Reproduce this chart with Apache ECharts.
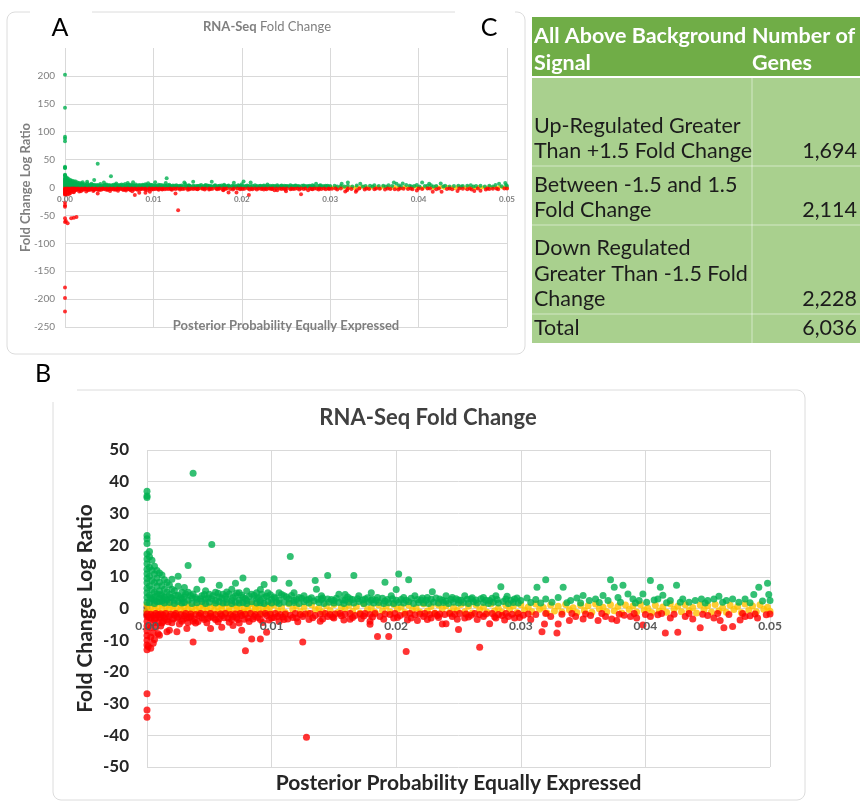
<!DOCTYPE html>
<html><head><meta charset="utf-8">
<script src="https://cdn.jsdelivr.net/npm/echarts@6/dist/echarts.min.js"></script>
<style>html,body{margin:0;padding:0;background:#fff}#c{width:862px;height:807px}</style>
</head><body><div id="c"></div>
<script>
// ---------------- DATA ----------------
const xTickValues = [0, 0.01, 0.02, 0.03, 0.04, 0.05];
const yTicksFull = [-250, -200, -150, -100, -50, 0, 50, 100, 150, 200];
const yTicksZoom = [-50, -40, -30, -20, -10, 0, 10, 20, 30, 40, 50];

const chartTitle = 'RNA-Seq Fold Change';
const xTitle = 'Posterior Probability Equally Expressed';
const yTitle = 'Fold Change Log Ratio';

const tableHeader = ['All Above Background\nSignal', 'Number of\nGenes'];
const tableRowLabels = ['Up-Regulated Greater\nThan +1.5 Fold Change', 'Between -1.5 and 1.5\nFold Change', 'Down Regulated\nGreater Than -1.5 Fold\nChange', 'Total'];
const tableRowCounts = ['1,694', '2,114', '2,228', '6,036'];

const otherPoints = [[0,0.3],[0,-0.8],[0,-2]];

const betweenPoints = [
[0,1.2],[0,-0.8],[.0003,0.3],[.0003,-1.3],[.0006,1.1],[.0006,-0.4],[.0009,0.6],[.0009,-1.1],[.0012,1.4],[.0012,-0.2],[.0015,0.8],[.0015,-1.2],[.0018,0.1],[.0018,1.3],[.0021,-0.7],[.0021,0.9],[.0024,-1.4],[.0024,0.4],[.0027,1.1],[.0027,-0.5],[.003,-1],[.003,0.7],[.0033,1.4],[.0033,-0.3],[.0036,0.2],[.0036,-1.2],[.0039,1],[.0039,-0.6],[.0042,-1.3],[.0042,0.5],[.0045,1.2],[.0045,-0.1],[.0048,-0.9],[.0048,0.8],[.0051,0.3],[.0051,-1.4],[.0054,1.3],[.0054,-0.6],[.0057,-1.1],[.0057,0.6],[.006,0.9],[.006,-0.3],[.0063,-1.2],[.0063,1.4],[.0066,0.2],[.0066,-0.8],[.0069,1.1],[.0069,-1.4],[.0072,-0.4],[.0072,0.7],[.0075,1.3],[.0075,-1],[.0078,0.1],[.0078,-1.3],[.0081,0.9],[.0081,-0.5],[.0084,1.4],[.0084,-1.1],[.0087,-0.2],[.0087,0.6],[.009,1.2],[.009,-0.9],[.0093,-1.4],[.0093,0.4],[.0096,1],[.0096,-0.3],[.0099,-1.2],[.0099,0.8],
[.0102,1.1],[.0105,-0.7],[.0108,0.3],[.0111,-1.3],[.0114,1.4],[.0117,-0.2],[.012,0.8],[.0123,-1],[.0126,0.5],[.0129,-1.4],[.0132,1.2],[.0135,-0.4],[.0138,0.1],[.0141,-1.1],[.0144,0.9],[.0147,-0.6],[.015,1.3],[.0153,-1.3],[.0156,0.4],[.0159,-0.1],[.0162,1],[.0165,-0.9],[.0168,0.6],[.0171,-1.4],[.0174,1.4],[.0177,-0.3],[.018,0.2],[.0183,-1.2],[.0186,1.1],[.0189,-0.7],[.0192,0.7],[.0195,-1],[.0198,1.3],[.0201,-0.2],[.0204,0.5],[.0207,-1.3],[.021,1],[.0213,-0.5],[.0216,0.2],[.0219,-1.1],[.0222,1.4],[.0225,-0.8],[.0228,0.6],[.0231,-1.4],[.0234,1.1],[.0237,-0.1],[.024,0.9],[.0243,-1.2],[.0246,0.3],[.0249,-0.6],[.0252,1.3],[.0255,-1],[.0258,0.7],[.0261,-1.4],[.0264,1.2],[.0267,-0.4],[.027,0.4],[.0273,-1.2],[.0276,1.4],[.0279,-0.7],[.0282,0.1],[.0285,-1.1],[.0288,1],[.0291,-0.3],[.0294,0.8],[.0297,-1.3],
[.03,1.2],[.0303,-0.5],[.0306,0.5],[.0309,-1],[.0312,1.4],[.0315,-0.2],[.0318,0.3],[.0321,-1.4],[.0324,1.1],[.0327,-0.8],[.033,0.7],[.0333,-1.1],[.0336,1.3],[.0339,-0.4],[.0342,0.2],[.0345,-1.3],[.0348,1],[.0351,-0.6],[.0354,0.9],[.0357,-1.2],[.036,1.4],[.0363,-0.1],[.0366,0.4],[.0369,-1],[.0372,1.2],[.0375,-0.7],[.0378,0.6],[.0381,-1.4],[.0384,1.1],[.0387,-0.3],[.039,0.8],[.0393,-1.1],[.0396,1.3],[.0399,-0.5],[.0402,0.1],[.0405,-1.3],[.0408,1],[.0411,-0.8],[.0414,0.5],[.0417,-1.2],[.042,1.4],[.0423,-0.2],[.0426,0.7],[.0429,-1],[.0432,1.2],[.0435,-0.6],[.0438,0.3],[.0441,-1.4],[.0444,1.1],[.0447,-0.4],[.045,0.9],[.0453,-1.1],[.0456,1.3],[.0459,-0.7],[.0462,0.2],[.0465,-1.2],[.0468,1],[.0471,-0.3],[.0474,0.6],[.0477,-1.3],[.048,1.4],[.0483,-0.5],[.0486,0.8],[.0489,-1],[.0492,1.2],[.0495,-0.2],[.0498,0.4],[.05,-0.9]
];

const upRegulatedPoints = [
[0,202],[0,143],[0,91],[0,88],[0,83],[0,37],[0,35.5],[0,35],[0,23],[0,22],[0,20.5],[0,17.2],[0,15.6],[0,14.1],[0,12.4],[0,11],[0,9.5],[0,8.1],[0,6.4],[0,5],[0,3.5],[0,2],
[.0002,18],[.0002,16.3],[.0002,13],[.0002,10.2],[.0002,7.1],[.0002,4.2],[.0002,1.8],
[.0004,15.2],[.0004,12.1],[.0004,8.8],[.0004,6],[.0004,3.1],
[.0006,13.3],[.0006,10.9],[.0006,8.2],[.0006,5.1],[.0006,2.6],[.0006,1.6],
[.0008,12],[.0008,9.6],[.0008,7],[.0008,4.6],[.0008,2.2],
[.001,11.2],[.001,8.3],[.001,5.6],[.001,3.2],[.001,2.1],
[.0012,10.6],[.0012,7.2],[.0012,4.1],[.0012,2.4],
[.0014,9.1],[.0014,6.1],[.0014,3.6],[.0014,1.7],
[.0016,8.2],[.0016,5.2],[.0016,2.7],
[.0018,7.4],[.0018,4.4],[.0018,1.9],
[.002,9.2],[.002,6.1],[.002,3.4],
[.0022,5.6],[.0022,2.6],[.0022,1.6],
[.0025,10.2],[.0025,7],[.0025,4.1],[.0025,2.2],
[.0028,5.1],[.0028,3],[.0028,1.7],
[.003,6.6],[.003,3.6],[.003,1.9],
[.0033,13.6],[.0033,5.1],[.0033,2.6],
[.0036,3.3],[.0036,1.6],
[.0037,42.7],[.0037,4.6],
[.004,6.1],[.004,2.9],[.004,1.8],
[.0044,9.1],[.0044,4],[.0044,2.2],
[.0047,5.6],[.0047,3],[.0047,1.6],
[.005,4.5],[.005,2],
[.0052,20.2],[.0052,3.1],
[.0055,5.1],[.0055,2.5],[.0055,1.7],
[.0058,7.3],[.0058,3.6],[.0058,2.1],
[.0061,4.5],[.0061,1.7],
[.0064,5.2],[.0064,2.9],[.0064,1.9],
[.0068,6.1],[.0068,2.5],[.0068,1.6],
[.0071,8],[.0071,4],[.0071,2],
[.0074,5],[.0074,2.7],[.0074,1.7],
[.0077,9.6],[.0077,3.5],[.0077,1.9],
[.008,5.5],[.008,2.5],[.008,1.6],
[.0084,4.5],[.0084,2.1],
[.0088,5],[.0088,3],[.0088,1.7],
[.0091,6],[.0091,2.5],[.0091,1.8],
[.0094,7.6],[.0094,3.5],[.0094,1.6],
[.0097,5],[.0097,2.2],
[.01,2.9],[.01,1.7],
[.0102,9.4],[.0102,3.6],
[.0104,2],
[.0106,5],[.0106,2.6],[.0106,1.6],
[.011,4],[.011,2],
[.0114,8],[.0114,3],[.0114,1.7],
[.0115,16.4],
[.0118,5],[.0118,2.5],[.0118,1.9],
[.0122,3.5],[.0122,1.6],
[.0126,4],[.0126,2.1],
[.013,3],[.013,1.7],
[.0134,2.4],[.0135,8.8],[.0136,6.1],[.0138,1.9],
[.014,4],[.014,2.8],[.0142,1.6],
[.0145,10.4],[.0145,3],[.0146,2],
[.015,2.5],[.015,1.7],[.0154,4.5],[.0154,1.9],[.0158,1.6],
[.0159,4.4],[.0159,2.6],[.0162,2],[.0163,3.1],
[.0166,10.4],[.0166,1.7],[.017,4],[.017,2.2],[.0174,1.6],[.0175,3],[.0178,2],
[.018,5],[.018,2.6],[.0182,1.7],[.0185,3.5],[.0186,1.9],[.019,1.6],
[.0191,8.3],[.0191,2.4],[.0194,1.8],[.0196,4],[.0198,1.6],
[.02,6],[.02,2.6],[.0202,10.9],[.0202,1.9],[.0206,3.5],[.0206,1.7],
[.021,9.1],[.021,2.1],[.0214,1.6],[.0215,4],[.0218,1.9],[.022,2.7],[.0222,1.7],[.0225,3.5],[.0226,1.6],
[.0229,5.3],[.023,2],[.0234,1.7],[.0235,3],[.0238,1.9],[.024,4],[.024,2.4],[.0242,1.6],[.0245,3.5],[.0246,2],
[.025,2.7],[.025,1.7],[.0254,1.9],[.0255,4],[.0258,1.6],[.026,3],[.0262,2.1],[.0265,1.7],
[.027,3.5],[.027,1.9],[.0274,1.6],[.0275,2.5],[.0278,2],[.028,4],[.0282,1.7],[.0284,6.9],[.0286,2.2],[.0289,3.9],
[.029,1.6],[.0294,1.9],[.0295,3],[.0298,1.7],[.03,2.5],[.0305,3.3],[.0308,1.9],[.0312,2.8],[.0313,6.7],[.0316,1.7],
[.032,9.1],[.032,3],[.0325,2],[.033,3.5],[.0334,6.7],[.0337,1.8],[.034,2.5],[.0345,3.3],[.0348,1.7],
[.035,4.1],[.0355,2.5],[.036,3],[.0363,1.9],[.0366,4.1],[.037,2.5],[.0372,9.1],[.0375,6.7],[.0378,3.5],
[.038,2],[.0382,7.3],[.0386,4.6],[.039,3],[.0392,1.7],[.0395,2.5],[.0398,4.6],[.0401,2],[.0404,8.8],[.0407,2.7],
[.041,3],[.0412,6.7],[.0414,4.2],[.0417,1.8],[.042,2.5],[.0425,7.3],[.0428,2],[.043,3],[.0435,2],[.044,2.5],
[.0445,3],[.0448,1.7],[.045,2.5],[.0455,3],[.0459,3.9],[.0462,2],[.0465,2.5],[.047,3],[.0475,2],[.048,3],
[.0484,1.8],[.0487,4.4],[.0491,6.7],[.0494,2.4],[.0498,8],[.0499,4.4],[.05,2.5],
[.0003,3.4],[.0007,3.8],[.0011,4.4],[.0015,3.1],[.0019,3.5],[.0023,4.2],[.0027,3.3],[.0031,4.6],[.0035,4.1],[.0039,3.5],[.0043,3.1],[.0046,4.4],[.0049,3.3],[.0053,4],[.0057,4.8],[.006,3.2],[.0063,3.9],[.0066,4.6],[.0069,3.4],[.0072,4.9],[.0076,4.2],[.0079,3.1],[.0082,3.8],[.0086,4.1],[.0089,3.4],[.0092,4.5],[.0096,3.9],[.0099,4.3],[.0103,3.2],[.0108,4.4],[.0112,3.6],[.0116,4.1],[.012,2.8],[.0124,3.2],
[.0128,2.7],[.0132,3.4],[.0137,2.9],[.0141,3.3],[.0148,2.8],[.0152,3.2],[.0157,2.7],[.0161,3.6],[.0165,2.8],[.0169,3.1],[.0173,2.7],[.0177,3.4],[.0181,2.9],[.0184,2.6],[.0189,3.2],[.0193,2.8],[.0197,3.1],[.0204,2.8],[.0208,2.6],[.0212,3.2],[.0217,2.8],[.0221,3.3],[.0224,2.6],[.0228,2.9],[.0232,3.3],[.0237,2.6],[.0244,2.8],[.0248,3.1],[.0252,2.6],[.0257,2.9],[.0261,3.4],[.0264,2.7],[.0268,3.1],[.0272,2.6],[.0277,3.2],[.0281,2.8],[.0288,3],[.0292,2.6],[.0297,3.3]
];

const downRegulatedPoints = [
[0,-222],[0,-198],[0,-179],[0,-62],[0,-55],[0,-34.3],[0,-32],[0,-26.9],[0,-13],[0,-11.5],[0,-10],[0,-8.5],[0,-7],[0,-5.5],[0,-4],[0,-2.5],[0,-1.7],
[.0001,-60],[.0001,-12],
[.0003,-64],[.0003,-12.5],[.0003,-9],[.0003,-6],[.0003,-3],[.0003,-1.8],
[.0005,-11],[.0005,-7.7],[.0005,-4.5],[.0005,-2.2],[.0006,-9.8],
[.0007,-55],[.0007,-6],[.0007,-3],[.0007,-1.6],
[.0009,-8],[.0009,-4.5],[.0009,-2],
[.001,-54],[.001,-8.4],
[.0011,-5.5],[.0011,-3],[.0011,-1.7],
[.0013,-53],[.0013,-4],[.0013,-2.1],[.0015,-1.6],
[.0016,-7.3],[.0016,-3.5],[.0018,-6.9],[.0018,-2.5],[.0019,-1.8],
[.002,-4.5],[.0022,-2.1],[.0023,-1.6],[.0024,-7.3],[.0024,-3],[.0027,-1.9],[.0028,-4],
[.003,-2.3],[.0031,-1.6],[.0032,-6.3],[.0032,-3],[.0035,-2.5],[.0035,-1.7],
[.0037,-10.6],[.0037,-4],[.0039,-4.6],[.0039,-1.9],[.0042,-2.2],[.0043,-1.6],[.0046,-3.5],[.0047,-1.8],
[.0051,-6.3],[.0051,-2.5],[.0051,-1.6],[.0055,-3.5],[.0055,-1.9],[.0059,-1.7],
[.006,-5.9],[.006,-2.3],[.0063,-1.6],[.0065,-3],[.0067,-1.9],[.0069,-5.4],[.0069,-2.5],[.0071,-1.7],
[.0073,-3.5],[.0075,-1.6],[.0076,-6.9],[.0076,-2.2],[.0079,-13.3],[.0079,-1.8],
[.0081,-3],[.0083,-1.6],[.0084,-9.6],[.0086,-2.5],[.0087,-1.9],
[.0091,-9.6],[.0091,-3.5],[.0091,-1.7],[.0095,-1.6],[.0096,-7.5],[.0096,-2.2],[.0099,-1.8],
[.01,-3],[.0103,-1.6],[.0105,-2.5],[.0107,-1.9],[.011,-3.5],[.0111,-1.7],[.0115,-2.1],[.0119,-1.6],
[.012,-3],[.0123,-1.9],[.0125,-10.6],[.0125,-2.5],[.0127,-1.7],[.0128,-40.6],
[.013,-3.5],[.0131,-1.6],[.0135,-2.2],[.0139,-4],[.0139,-1.8],[.0143,-1.6],[.0145,-2.5],[.0147,-1.9],
[.015,-3],[.0151,-1.7],[.0155,-1.6],[.0156,-2.3],[.0159,-1.8],[.0163,-3.4],[.0163,-1.6],[.0167,-2.2],
[.0171,-1.7],[.0174,-2.4],[.0175,-1.6],[.0179,-4],[.0179,-5],[.0179,-1.9],[.0183,-1.6],[.0185,-8.8],[.0187,-2.5],
[.0191,-1.7],[.0194,-8.8],[.0195,-1.9],[.0198,-3],[.0199,-1.6],[.0203,-2.2],[.0207,-1.8],[.0208,-13.6],
[.0211,-1.6],[.0212,-3],[.0215,-2],[.0217,-3.8],[.0219,-1.7],[.0222,-2.5],[.0223,-1.6],[.0227,-1.9],[.0228,-3],
[.0231,-1.6],[.0233,-2.2],[.0235,-1.7],[.0237,-4.9],[.0239,-1.9],[.024,-4.8],[.0243,-1.6],[.0245,-2.5],[.0247,-1.8],
[.025,-6.6],[.0251,-1.6],[.0255,-3],[.0256,-1.7],[.026,-2.1],[.0263,-1.6],[.0267,-12.2],[.0267,-1.9],
[.027,-2.5],[.0272,-1.7],[.0275,-4.8],[.0277,-1.6],[.028,-3],[.0282,-1.9],[.0285,-2.2],[.0288,-1.6],
[.029,-2.5],[.0293,-1.8],[.0295,-3],[.0298,-1.6],[.0302,-2.1],[.0306,-1.7],[.0308,-3.5],[.0312,-1.9],
[.0317,-7.3],[.0319,-4.9],[.032,-1.6],[.0324,-2.5],[.0329,-7.7],[.033,-4.9],[.0333,-1.8],[.0339,-3.8],
[.0341,-1.6],[.0344,-2.5],[.035,-3.3],[.0352,-1.7],[.0356,-2.2],[.0362,-3.8],[.0365,-1.6],[.0368,-2.5],
[.0373,-3.3],[.0377,-3.8],[.0379,-1.8],[.0383,-2.1],[.0388,-2.5],[.0391,-1.6],[.0393,-3],[.0398,-5.2],
[.04,-1.9],[.0404,-2.5],[.041,-2],[.0413,-1.6],[.0416,-7.7],[.042,-3],[.0423,-1.8],[.0426,-7.5],
[.0432,-2.5],[.0435,-1.6],[.0438,-3.3],[.0444,-6.1],[.0446,-1.8],[.045,-2.2],[.0455,-3],[.0458,-1.6],
[.046,-3.8],[.0463,-6.1],[.0467,-1.9],[.047,-5.7],[.0476,-3.6],[.0478,-1.6],[.048,-2.5],[.0484,-2.3],
[.0488,-1.7],[.049,-3],[.0497,-2],[.05,-1.7],
[.0002,-2.8],[.0006,-3.6],[.001,-2.7],[.0012,-4.6],[.0014,-3],[.0017,-4.2],[.0021,-3.3],[.0025,-2.7],[.0026,-4.9],[.0029,-3.4],[.0033,-4.4],[.0034,-2.8],[.0038,-3.3],[.0041,-4.1],[.0044,-2.9],[.0048,-4.5],[.0049,-3.1],[.0053,-2.8],[.0057,-4.2],[.0058,-3.2],[.0062,-2.9],[.0066,-4.3],[.0068,-3.5],[.0072,-2.8],[.0074,-4.6],[.0078,-3.4],[.0082,-4.1],[.0085,-3.3],[.0089,-2.8],[.0093,-4.4],[.0098,-3.6],[.0102,-2.8],[.0106,-4.1],[.0109,-2.7],[.0113,-3.3],[.0117,-2.8],[.0121,-4.2],
[.0133,-2.9],[.0141,-3.3],[.0149,-2.7],[.0158,-3.6],[.0165,-2.8],[.0172,-3.2],[.0181,-2.7],[.019,-3.4],[.0201,-2.8],[.0209,-3.6],[.0225,-3.5],[.0234,-2.8],[.0249,-3.4],[.0258,-2.7],[.0265,-3.5],[.0279,-2.6],[.0287,-3.6],[.0299,-2.8]
];

// ---------------- CHART ----------------
const FONT = 'Lato, "Open Sans", "DejaVu Sans", sans-serif';
const COLORS = {other:'#1a1a1a', between:'#ffc000', up:'#00b050', down:'#ff0000'};
const chart = echarts.init(document.getElementById('c'), null, {renderer:'canvas', width:862, height:807});

function seriesFor(idx, size) {
  const base = {type:'scatter', xAxisIndex:idx, yAxisIndex:idx, symbolSize:size, clip:true, silent:true};
  return [
    Object.assign({name:'Other', data:otherPoints, itemStyle:{color:COLORS.other}}, base),
    Object.assign({name:'Between -1.5 and 1.5', data:betweenPoints, itemStyle:{color:COLORS.between}}, base),
    Object.assign({name:'Up-Regulated', data:upRegulatedPoints, itemStyle:{color:COLORS.up}}, base),
    Object.assign({name:'Down Regulated', data:downRegulatedPoints, itemStyle:{color:COLORS.down}}, base)
  ];
}

const xMin = xTickValues[0], xMax = xTickValues[xTickValues.length-1], xStep = xTickValues[1]-xTickValues[0];

// main x axis: grid lines + title
function xAxisFor(idx, o) {
  return {
    gridIndex:idx, type:'value', min:xMin, max:xMax, interval:xStep, position:'bottom',
    axisLine:{show:false, onZero:false}, axisTick:{show:false}, axisLabel:{show:false},
    splitLine:{show:true, lineStyle:{color:'#d9d9d9', width:1}},
    name:xTitle, nameLocation:'middle', nameGap:o.nameGap, nameMoveOverlap:false,
    nameTextStyle:{fontSize:o.nameSize, fontWeight:'bold', color:o.nameColor, fontFamily:FONT}
  };
}
// label-only x axis drawn above the points, labels level with the zero line (Excel style)
function xLabelAxisFor(idx, o) {
  return {
    gridIndex:idx, type:'value', min:xMin, max:xMax, interval:xStep, position:'bottom', z:10,
    axisLine:{show:false, onZero:false}, axisTick:{show:false}, splitLine:{show:false},
    axisLabel:{formatter:v => v.toFixed(2), fontSize:o.labelSize, fontWeight:'bold', color:o.labelColor, margin:o.labelMargin, fontFamily:FONT}
  };
}

function yAxisFor(idx, ticks, o) {
  const mn = ticks[0], step = ticks[1]-ticks[0];
  const mx = o.max !== undefined ? o.max : ticks[ticks.length-1];
  const lineCount = Math.round((mx-mn)/step)+1;
  const splitColors = [];
  for (let i = 0; i < lineCount; i++) splitColors.push(o.hideTop && i === lineCount-1 ? 'rgba(0,0,0,0)' : '#d9d9d9');
  return {
    gridIndex:idx, type:'value', min:mn, max:mx, interval:step,
    axisLine:{show:false, onZero:false}, axisTick:{show:false},
    axisLabel:{formatter:v => (ticks.indexOf(v) >= 0 ? String(v) : ''), fontSize:o.labelSize, fontWeight:o.labelWeight, color:o.labelColor, margin:o.labelMargin, fontFamily:FONT},
    splitLine:{show:true, lineStyle:{color:splitColors, width:1}},
    name:yTitle, nameLocation:'middle', nameGap:o.nameGap, nameMoveOverlap:false,
    nameTextStyle:{fontSize:o.nameSize, fontWeight:'bold', color:o.nameColor, fontFamily:FONT}
  };
}

// table graphics
const tableLeft = 532, tableRight = 860, tableDivider = 752;
const rowEdges = [17, 77, 166, 225, 314, 343];
const TFONT = 21.5;
const tableGraphics = [];
tableGraphics.push({type:'rect', shape:{x:tableLeft, y:rowEdges[0], width:tableRight-tableLeft, height:rowEdges[1]-rowEdges[0]}, style:{fill:'#70ad47'}});
tableGraphics.push({type:'rect', shape:{x:tableLeft, y:rowEdges[1], width:tableRight-tableLeft, height:rowEdges[5]-rowEdges[1]}, style:{fill:'#a9d08e'}});
tableGraphics.push({type:'line', shape:{x1:tableLeft, y1:rowEdges[1], x2:tableRight, y2:rowEdges[1]}, style:{stroke:'#ffffff', lineWidth:2}});
for (let i = 2; i < 5; i++) {
  tableGraphics.push({type:'line', shape:{x1:tableLeft, y1:rowEdges[i], x2:tableRight, y2:rowEdges[i]}, style:{stroke:'rgba(255,255,255,0.5)', lineWidth:1}});
}
tableGraphics.push({type:'line', shape:{x1:tableDivider, y1:rowEdges[1], x2:tableDivider, y2:rowEdges[5]}, style:{stroke:'rgba(255,255,255,0.5)', lineWidth:1}});
tableGraphics.push({type:'text', x:tableLeft+2, y:rowEdges[0]+6, style:{text:tableHeader[0], font:'bold ' + TFONT + 'px ' + FONT, fill:'#ffffff', lineHeight:26.6, verticalAlign:'top', align:'left'}});
tableGraphics.push({type:'text', x:tableDivider, y:rowEdges[0]+6, style:{text:tableHeader[1], font:'bold ' + TFONT + 'px ' + FONT, fill:'#ffffff', lineHeight:26.6, verticalAlign:'top', align:'left'}});
tableRowLabels.forEach((lab, i) => {
  const bottom = rowEdges[i+2];
  tableGraphics.push({type:'text', x:tableLeft+2, y:bottom-2, style:{text:lab, font:TFONT + 'px ' + FONT, fill:'#1c1c1c', lineHeight:25.5, verticalAlign:'bottom', align:'left'}});
  tableGraphics.push({type:'text', x:tableRight-3, y:bottom-14.5, style:{text:tableRowCounts[i], font:TFONT + 'px ' + FONT, fill:'#1c1c1c', verticalAlign:'middle', align:'right'}});
});

const option = {
  animation:false,
  backgroundColor:'#ffffff',
  title:[
    {text:'{b|RNA-Seq} Fold Change', left:267, top:20, textAlign:'center', padding:0,
     textStyle:{fontSize:13, fontWeight:'normal', color:'#7f7f7f', fontFamily:FONT, rich:{b:{fontSize:13, fontWeight:'bold', color:'#7f7f7f', fontFamily:FONT}}}},
    {text:chartTitle, left:428, top:407, textAlign:'center', padding:0,
     textStyle:{fontSize:22, fontWeight:'bold', color:'#404040', fontFamily:FONT}}
  ],
  grid:[
    {left:65, top:48, width:442, height:279, containLabel:false, outerBoundsMode:'none'},
    {left:147, top:450, width:623, height:317, containLabel:false, outerBoundsMode:'none'}
  ],
  xAxis:[
    xAxisFor(0, {nameGap:-8, nameSize:13, nameColor:'#7f7f7f'}),
    xAxisFor(1, {nameGap:6, nameSize:21, nameColor:'#262626'}),
    xLabelAxisFor(0, {labelSize:8, labelColor:'#7f7f7f', labelMargin:-132}),
    xLabelAxisFor(1, {labelSize:12, labelColor:'#595959', labelMargin:-147})
  ],
  yAxis:[
    yAxisFor(0, yTicksFull, {max:250, hideTop:true, labelSize:10, labelWeight:'normal', labelColor:'#7f7f7f', labelMargin:10, nameGap:33, nameSize:13, nameColor:'#7f7f7f'}),
    yAxisFor(1, yTicksZoom, {labelSize:17, labelWeight:'bold', labelColor:'#262626', labelMargin:18, nameGap:51, nameSize:21, nameColor:'#262626'})
  ],
  series: seriesFor(0, 4).concat(seriesFor(1, 7)),
  graphic:[
    {type:'rect', z:-10, shape:{x:7, y:12, width:518, height:342, r:8}, style:{fill:'none', stroke:'#dcdcdc', lineWidth:1}},
    {type:'rect', z:-10, shape:{x:53, y:390, width:752, height:410, r:8}, style:{fill:'none', stroke:'#dcdcdc', lineWidth:1}},
    {type:'rect', z:-9, shape:{x:30, y:4, width:62, height:40}, style:{fill:'#ffffff'}},
    {type:'rect', z:-9, shape:{x:455, y:4, width:60, height:40}, style:{fill:'#ffffff'}},
    {type:'rect', z:-9, shape:{x:0, y:358, width:77, height:44}, style:{fill:'#ffffff'}},
    {type:'text', x:60, y:28, style:{text:'A', font:'25px ' + FONT, fill:'#000', align:'center', verticalAlign:'middle'}},
    {type:'text', x:489, y:28, style:{text:'C', font:'25px ' + FONT, fill:'#000', align:'center', verticalAlign:'middle'}},
    {type:'text', x:43, y:374, style:{text:'B', font:'25px ' + FONT, fill:'#000', align:'center', verticalAlign:'middle'}}
  ].concat(tableGraphics)
};
chart.setOption(option);
</script>
</body></html>
